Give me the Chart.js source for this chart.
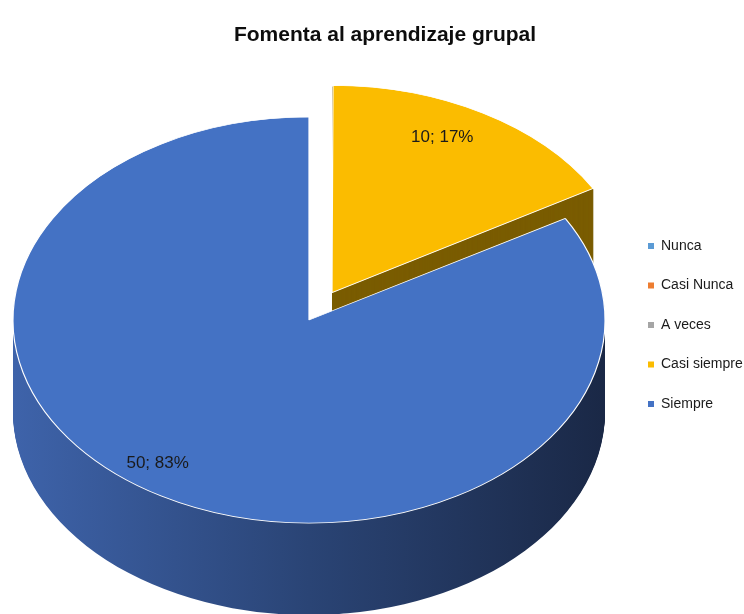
<!DOCTYPE html>
<html>
<head>
<meta charset="utf-8">
<script src="https://cdn.jsdelivr.net/npm/chart.js@4.4.0/dist/chart.umd.min.js"></script>
<style>
  html, body { margin: 0; padding: 0; background: #fff; }
  #wrap { width: 744px; height: 614px; }
</style>
</head>
<body>
<div id="wrap"><canvas id="pie-chart" width="744" height="614"></canvas></div>
<script>
const categories = ['Nunca', 'Casi Nunca', 'A veces', 'Casi siempre', 'Siempre'];
const counts = [0, 0, 0, 10, 50];
const sliceColors = ['#5B9BD5', '#ED7D31', '#A5A5A5', '#FBBC00', '#4472C4'];

const FONT = "'Liberation Sans', Arial, sans-serif";

// fake 3D: squash the pie into an ellipse and extrude it downwards
const CX = 309, CY = 320, TILT = 0.686, DEPTH = 92;
const RADIUS = 296;

function wedgePath(ctx, arc) {
  const off = (arc.options.offset || 0) / 4;
  const mid = (arc.startAngle + arc.endAngle) / 2;
  const fix = 1 - Math.sin(Math.min(Math.PI, arc.circumference));
  const r = arc.outerRadius + off * fix;
  const ox = Math.cos(mid) * off, oy = Math.sin(mid) * off;
  ctx.beginPath();
  ctx.moveTo(ox, oy);
  ctx.arc(ox, oy, r, arc.startAngle, arc.endAngle);
  ctx.closePath();
}

const pie3d = {
  id: 'pie3d',
  beforeDatasetsDraw(chart) {
    const ctx = chart.ctx;
    const arcs = chart.getDatasetMeta(0).data;
    const blueSide = ctx.createLinearGradient(-RADIUS, 0, RADIUS, 0);
    blueSide.addColorStop(0, '#3E63AA');
    blueSide.addColorStop(0.5, '#2A4475');
    blueSide.addColorStop(1, '#1A2846');
    const sides = ['#3A6C99', '#8A4A1C', '#666666', '#7A5C00', blueSide];
    for (let d = DEPTH; d >= 1; d--) {
      arcs.forEach((arc, i) => {
        if (!arc.circumference) return;
        ctx.save();
        ctx.translate(CX, CY + d);
        ctx.scale(1, TILT);
        wedgePath(ctx, arc);
        ctx.fillStyle = sides[i];
        ctx.fill();
        ctx.restore();
      });
    }
    const a0 = arcs[0];
    ctx.save();
    ctx.translate(CX, CY);
    ctx.scale(1, TILT);
    ctx.translate(-a0.x, -a0.y);
  },
  afterDatasetsDraw(chart) {
    const ctx = chart.ctx;
    ctx.restore();
    // data labels "value; percent"
    const total = counts.reduce((a, b) => a + b, 0);
    const anchor = {3: [0.85, -4], 4: [0.87, 6]};
    const arcs = chart.getDatasetMeta(0).data;
    ctx.save();
    ctx.font = '17px ' + FONT;
    ctx.fillStyle = '#1a1a1a';
    ctx.textAlign = 'center';
    ctx.textBaseline = 'middle';
    arcs.forEach((arc, i) => {
      if (!counts[i]) return;
      const off = (arc.options.offset || 0) / 4;
      const mid = (arc.startAngle + arc.endAngle) / 2;
      const [f, shift] = anchor[i] || [0.7, 0];
      const a = mid + shift * Math.PI / 180;
      const ox = Math.cos(mid) * off, oy = Math.sin(mid) * off;
      const x = CX + ox + Math.cos(a) * f * RADIUS;
      const y = CY + (oy + Math.sin(a) * f * RADIUS) * TILT;
      const pct = Math.round(counts[i] / total * 100);
      ctx.fillText(counts[i] + '; ' + pct + '%', x, y);
    });
    ctx.restore();
  }
};

const pieChart = document.getElementById('pie-chart');

new Chart(pieChart, {
  type: 'pie',
  data: {
    labels: categories,
    datasets: [
      {
        data: counts,
        backgroundColor: sliceColors,
        borderColor: '#ffffff',
        borderWidth: 1.2,
        offset: [0, 0, 0, 184, 0],
        radius: RADIUS,
        clip: false,
      },
    ],
  },
  options: {
    responsive: false,
    animation: false,
    events: [],
    layout: {
      // negative bottom pushes the right-hand legend down to where it sits in the original
      padding: { left: 26, right: 0, top: 0, bottom: -36 },
    },
    plugins: {
      title: {
        display: true,
        text: 'Fomenta al aprendizaje grupal',
        color: '#0d0d0d',
        font: { family: FONT, size: 21, weight: 'bold' },
        padding: { top: 22.5, bottom: 10 },
      },
      legend: {
        position: 'right',
        maxWidth: 121.5,
        labels: {
          boxWidth: 6,
          boxHeight: 6,
          padding: 25.5,
          color: '#1a1a1a',
          font: { family: FONT, size: 14 },
          generateLabels(chart) {
            const base = Chart.overrides.pie.plugins.legend.labels.generateLabels(chart);
            return base.map(item => ({ ...item, lineWidth: 0, strokeStyle: item.fillStyle }));
          },
        },
      },
      tooltip: { enabled: false },
    },
  },
  plugins: [pie3d],
});
</script>
</body>
</html>
